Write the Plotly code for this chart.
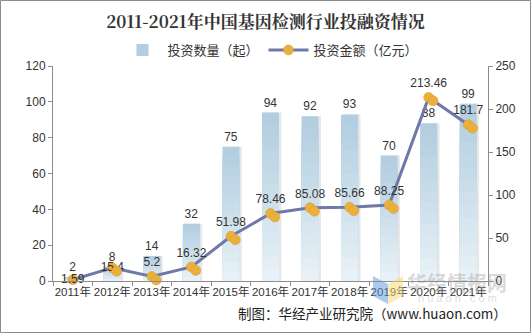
import plotly.graph_objects as go

years = ["2011年", "2012年", "2013年", "2014年", "2015年", "2016年", "2017年", "2018年", "2019年", "2020年", "2021年"]
counts = [2, 8, 14, 32, 75, 94, 92, 93, 70, 88, 99]
amounts = [1.59, 15.4, 5.2, 16.32, 51.98, 78.46, 85.08, 85.66, 88.25, 213.46, 181.7]

W, H = 531, 333
ml, mr, mt, mb = 53, 43, 66, 52
pw, ph = W - ml - mr, H - mt - mb

def px_x(p):
    return (p - ml) / pw

def px_y(p):
    return (H - mb - p) / ph

xs = list(range(len(years)))
FONT = "Liberation Sans, Arial, Noto Sans CJK SC, sans-serif"
CJK = "Noto Sans CJK SC, sans-serif"
BW = 0.43

fig = go.Figure()
# soft shadow to the right of bars
fig.add_trace(go.Bar(
    x=xs, y=counts, width=BW, offset=-BW / 2 + 0.06, showlegend=False, hoverinfo="skip",
    marker=dict(color="rgba(120,120,120,0.18)", line=dict(width=0)),
))
# gradient bars (dark top to light bottom), built as overlaid layers
top = (178, 206, 224)
bot = (232, 241, 247)
n = 14
for k in range(n):
    f = 1 - k / n
    t = k / (n - 1)
    c = tuple(int(top[i] + (bot[i] - top[i]) * t) for i in range(3))
    fig.add_trace(go.Bar(
        x=xs, y=[v * f for v in counts], width=BW, offset=-BW / 2,
        name="投资数量（起）", showlegend=(k == 0), legendgroup="bar", hoverinfo="skip",
        marker=dict(color=f"rgb{c}", line=dict(width=0)),
        text=[str(v) for v in counts] if k == 0 else None,
        textposition="outside" if k == 0 else None,
        textfont=dict(size=12, color="#333333", family=FONT),
        cliponaxis=False,
    ))

pos = ["middle center", "middle center"] + ["top center"] * (len(amounts) - 2)
fig.add_trace(go.Scatter(
    x=xs, y=amounts, name="投资金额（亿元）", yaxis="y2",
    mode="lines+markers+text",
    line=dict(color="#6F78A6", width=3),
    marker=dict(color="#E9B03E", size=10, line=dict(width=0.5, color="#D99A2B")),
    text=[f"{v:g}" for v in amounts], textposition=pos,
    textfont=dict(size=12, color="#333333", family=FONT),
    cliponaxis=False,
))
# second overlapping circle of the marker
fig.add_trace(go.Scatter(
    x=[x + 0.11 for x in xs], y=[a - 4 for a in amounts], yaxis="y2",
    mode="markers", showlegend=False, hoverinfo="skip",
    marker=dict(color="#E9B03E", size=10, line=dict(width=0.5, color="#D99A2B")),
    cliponaxis=False,
))

axis_common = dict(showgrid=False, zeroline=False, showline=True, linecolor="#8C8C8C",
                   linewidth=1, ticks="outside", ticklen=4, tickcolor="#8C8C8C",
                   tickfont=dict(size=12, color="#333333", family=FONT))

fig.update_layout(
    width=W, height=H,
    margin=dict(l=ml, r=mr, t=mt, b=mb, autoexpand=False),
    paper_bgcolor="white", plot_bgcolor="white",
    barmode="overlay",
    title=dict(text="2011-2021年中国基因检测行业投融资情况", x=0.5, xanchor="center",
               y=1 - 22 / H, yanchor="middle",
               font=dict(size=17, color="#333333", family="Noto Serif CJK SC, " + CJK, weight="bold")),
    legend=dict(orientation="h", x=0.5, xanchor="center", y=px_y(50), yanchor="middle",
                font=dict(size=13, color="#333333", family=CJK), itemwidth=40,
                bgcolor="rgba(0,0,0,0)"),
    xaxis=dict(range=[-0.5, len(years) - 0.5], tickvals=xs, ticktext=years, tickangle=0,
               showgrid=False, zeroline=False, showline=True, linecolor="#8C8C8C",
               ticks="", tickfont=dict(size=11.5, color="#333333", family=FONT), automargin=False,
               minor=dict(ticks="outside", tick0=-0.5, dtick=1, ticklen=4, tickcolor="#8C8C8C")),
    yaxis=dict(range=[0, 120], dtick=20, automargin=False, **axis_common),
    yaxis2=dict(range=[0, 250], dtick=50, overlaying="y", side="right", automargin=False, **axis_common),
    showlegend=True,
)

# watermark
fig.add_annotation(text="<b>华经情报网</b>", xref="paper", yref="paper", x=px_x(457), y=px_y(282),
                   xanchor="center", yanchor="middle",
                   showarrow=False, font=dict(size=20, color="rgba(150,150,150,0.35)", family=CJK))
fig.add_annotation(text="h u a o n . c o m", xref="paper", yref="paper", x=px_x(457), y=px_y(298),
                   xanchor="center", yanchor="middle",
                   showarrow=False, font=dict(size=11, color="rgba(150,150,150,0.35)", family=FONT))
fig.add_shape(type="path", xref="paper", yref="paper",
              path=f"M {px_x(373)},{px_y(276)} L {px_x(388)},{px_y(284)} L {px_x(388)},{px_y(304)} L {px_x(373)},{px_y(296)} Z",
              fillcolor="rgba(90,150,220,0.5)", line=dict(width=0), layer="above")
fig.add_shape(type="path", xref="paper", yref="paper",
              path=f"M {px_x(388)},{px_y(284)} L {px_x(403)},{px_y(276)} L {px_x(403)},{px_y(296)} L {px_x(388)},{px_y(304)} Z",
              fillcolor="rgba(250,215,110,0.5)", line=dict(width=0), layer="above")

# source
fig.add_annotation(text="制图：华经产业研究院（www.huaon.com）", xref="paper", yref="paper",
                   x=px_x(509), y=px_y(313), xanchor="right", yanchor="middle", showarrow=False,
                   font=dict(size=13.5, color="#222222", family=CJK))

# outer border
fig.add_shape(type="rect", xref="paper", yref="paper",
              x0=px_x(0.5), x1=px_x(W - 0.5), y0=px_y(H - 0.5), y1=px_y(0.5),
              line=dict(color="#8C8C8C", width=1), fillcolor="rgba(0,0,0,0)", layer="above")

fig.write_html("out.html")
